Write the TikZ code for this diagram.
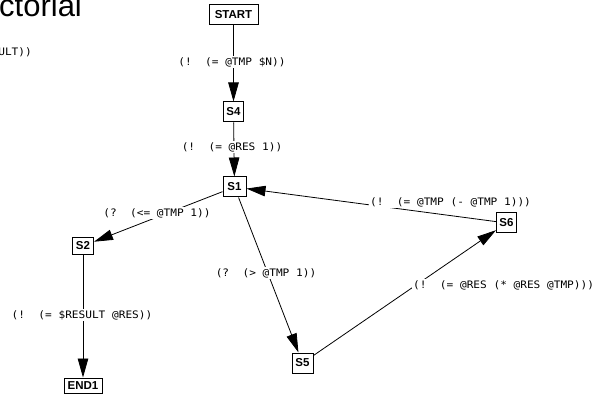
\documentclass[tikz,border=0pt]{standalone}
\usepackage{fontspec}
\setmainfont{Liberation Sans}
\newfontfamily\lblfont[FakeStretch=1.08]{DejaVu Sans Mono}
\usetikzlibrary{arrows.meta}
\begin{document}
\begin{tikzpicture}[x=1pt,y=-1pt,
  state/.style={draw, line width=1pt, fill=white, inner sep=0pt,
    font=\bfseries\fontsize{11.5}{12}\selectfont},
  arr/.style={line width=0.8pt, -{Triangle[length=19pt,width=10.5pt]}},
  lbl/.style={fill=white, inner sep=1pt, font=\lblfont\fontsize{10.3}{12}\selectfont}]
\useasboundingbox (0,0) rectangle (605,398);
\fill[white] (0,0) rectangle (605,398);
% partial texts at the border
\node[anchor=base west, inner sep=0pt, font=\fontsize{31}{31}\selectfont] (title) at (-1,17) {ctorial};
\node[anchor=base east, inner sep=0pt, font=\lblfont\fontsize{10.3}{12}\selectfont] (partial) at (32,56) {ULT))};
% states
\node[state, minimum width=49pt, minimum height=20pt] (start) at (233.5,15) {START};
\node[state, minimum width=20pt, minimum height=20pt] (s4) at (233.5,112) {S4};
\node[state, minimum width=23pt, minimum height=20pt] (s1) at (234.5,187) {S1};
\node[state, minimum width=21pt, minimum height=16pt] (s2) at (83,246) {S2};
\node[state, minimum width=21pt, minimum height=20pt] (s5) at (302.5,363) {S5};
\node[state, minimum width=20pt, minimum height=20pt] (s6) at (506.5,223) {S6};
\node[state, minimum width=38pt, minimum height=15pt] (end1) at (83,385.5) {END1};
% connectors
\draw[arr] (start) -- (s4);
\draw[arr] (s4) -- (s1);
\draw[arr] (s1) -- (s2);
\draw[arr] (s1) -- (s5);
\draw[arr] (s6) -- (s1);
\draw[arr] (s5) -- (s6);
\draw[arr] (s2) -- (end1);
% labels
\node[lbl] (l1) at (232,62) {(!\ \ (= @TMP \$N))};
\node[lbl] (l2) at (232,147) {(!\ \ (= @RES 1))};
\node[lbl] (l3) at (157,213) {(?\ \ (<= @TMP 1))};
\node[lbl] (l4) at (266,273) {(?\ \ (> @TMP 1))};
\node[lbl, anchor=west] (l5) at (369,202) {(!\ \ (= @TMP (- @TMP 1)))};
\node[lbl, anchor=west] (l6) at (412,285) {(!\ \ (= @RES (* @RES @TMP)))};
\node[lbl] (l7) at (82,315) {(!\ \ (= \$RESULT @RES))};
\end{tikzpicture}
\end{document}
